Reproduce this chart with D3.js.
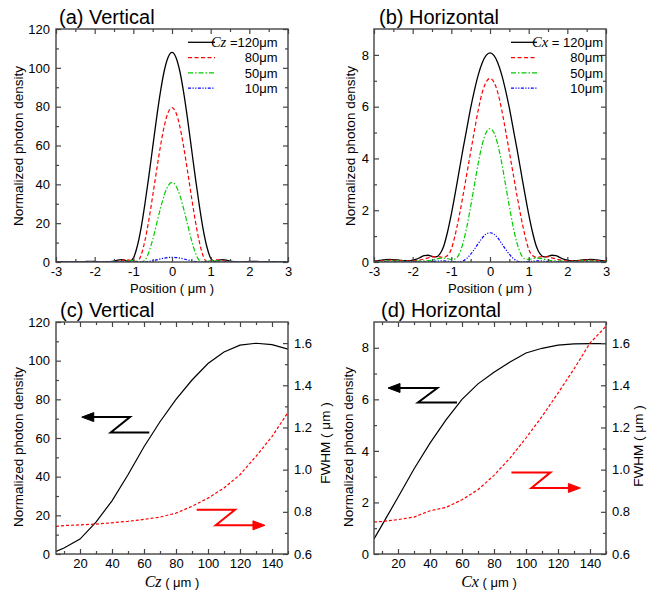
<!DOCTYPE html>
<html>
<head>
<meta charset="utf-8">
<script src="https://cdn.jsdelivr.net/npm/d3@7"></script>
<style>
body { margin: 0; background: #fff; }
svg text { font-family: "Liberation Sans", Arial, sans-serif; fill: #000; }
.axis path { display: none; }
.axis line { stroke: #444; stroke-width: 1.2; }
.axis text { font-size: 13px; }
</style>
</head>
<body>
<svg id="chart" width="647" height="593"></svg>
<script>

// ---- data ----
var positions = [-3,-2.9,-2.8,-2.7,-2.6,-2.5,-2.4,-2.3,-2.2,-2.1,
    -2,-1.9,-1.8,-1.7,-1.6,-1.5,-1.4,-1.3,-1.2,-1.1,
    -1,-0.9,-0.8,-0.7,-0.6,-0.5,-0.4,-0.3,-0.2,-0.1,
    0,
    0.1,0.2,0.3,0.4,0.5,0.6,0.7,0.8,0.9,1,
    1.1,1.2,1.3,1.4,1.5,1.6,1.7,1.8,1.9,2,
    2.1,2.2,2.3,2.4,2.5,2.6,2.7,2.8,2.9,3]

// (a) vertical profiles, Cz = 120, 80, 50, 10 um
var vert120 = [0.1,0.15,0.2,0.2,0.15,0.1,0.1,0.2,0.3,0.35,
    0.3,0.2,0.1,0.1,0.2,0.5,1.0,1.2,0.8,0.3,
    2,8,17.5,30,44,59,74,87.5,98.5,105.5,
    108,
    105.5,98.5,87.5,74,59,44,30,17.5,8,2,
    0.3,0.8,1.2,1.0,0.5,0.2,0.1,0.1,0.2,0.3,
    0.35,0.3,0.2,0.1,0.1,0.15,0.2,0.2,0.15,0.1]
var vert80 = [0.1,0.1,0.1,0.1,0.15,0.15,0.1,0.1,0.1,0.15,
    0.2,0.2,0.15,0.1,0.1,0.15,0.4,0.8,1.1,1.0,
    0.5,0.3,3.5,11,21.5,34,47,59.5,70,77,
    79.5,
    77,70,59.5,47,34,21.5,11,3.5,0.3,0.5,
    1.0,1.1,0.8,0.4,0.15,0.1,0.1,0.15,0.2,0.2,
    0.15,0.1,0.1,0.1,0.15,0.15,0.1,0.1,0.1,0.1]
var vert50 = [0.05,0.05,0.05,0.05,0.05,0.05,0.1,0.1,0.1,0.05,
    0.05,0.1,0.15,0.15,0.1,0.05,0.05,0.2,0.5,0.7,
    0.6,0.3,0.1,1,5,11.5,19.5,27.5,34.5,39.3,
    41,
    39.3,34.5,27.5,19.5,11.5,5,1,0.1,0.3,0.6,
    0.7,0.5,0.2,0.05,0.05,0.1,0.15,0.15,0.1,0.05,
    0.05,0.1,0.1,0.1,0.05,0.05,0.05,0.05,0.05,0.05]
var vert10 = [0.02,0.02,0.02,0.02,0.02,0.02,0.02,0.02,0.02,0.02,
    0.02,0.02,0.02,0.02,0.02,0.02,0.02,0.02,0.05,0.08,
    0.08,0.05,0.02,0.05,0.25,0.6,1.1,1.6,2.0,2.3,
    2.4,
    2.3,2.0,1.6,1.1,0.6,0.25,0.05,0.02,0.05,0.08,
    0.08,0.05,0.02,0.02,0.02,0.02,0.02,0.02,0.02,0.02,
    0.02,0.02,0.02,0.02,0.02,0.02,0.02,0.02,0.02,0.02]

// (b) horizontal profiles, Cx = 120, 80, 50, 10 um
var horz120 = [0.03,0.05,0.07,0.09,0.1,0.09,0.08,0.06,0.05,0.05,
    0.07,0.11,0.18,0.25,0.26,0.22,0.2,0.3,0.6,1.15,
    1.85,2.65,3.5,4.35,5.15,5.95,6.65,7.25,7.7,7.98,
    8.08,
    7.98,7.7,7.25,6.65,5.95,5.15,4.35,3.5,2.65,1.85,
    1.15,0.6,0.3,0.2,0.22,0.26,0.25,0.18,0.11,0.07,
    0.05,0.05,0.06,0.08,0.09,0.1,0.09,0.07,0.05,0.03]
var horz80 = [0.03,0.04,0.05,0.06,0.07,0.07,0.06,0.05,0.04,0.04,
    0.04,0.05,0.08,0.12,0.16,0.2,0.21,0.2,0.18,0.25,
    0.5,1.05,1.75,2.55,3.4,4.25,5.1,5.9,6.55,6.95,
    7.09,
    6.95,6.55,5.9,5.1,4.25,3.4,2.55,1.75,1.05,0.5,
    0.25,0.18,0.2,0.21,0.2,0.16,0.12,0.08,0.05,0.04,
    0.04,0.04,0.05,0.06,0.07,0.07,0.06,0.05,0.04,0.03]
var horz50 = [0.02,0.02,0.03,0.03,0.04,0.04,0.04,0.03,0.03,0.02,
    0.02,0.03,0.03,0.04,0.05,0.07,0.11,0.14,0.15,0.13,
    0.1,0.12,0.3,0.72,1.35,2.15,3.0,3.85,4.55,5.0,
    5.15,
    5.0,4.55,3.85,3.0,2.15,1.35,0.72,0.3,0.12,0.1,
    0.13,0.15,0.14,0.11,0.07,0.05,0.04,0.03,0.03,0.02,
    0.02,0.03,0.03,0.04,0.04,0.04,0.03,0.03,0.02,0.02]
var horz10 = [0.01,0.01,0.01,0.01,0.01,0.01,0.01,0.01,0.01,0.01,
    0.01,0.01,0.01,0.01,0.01,0.02,0.03,0.04,0.04,0.03,
    0.02,0.01,0.01,0.04,0.14,0.3,0.5,0.72,0.93,1.08,
    1.13,
    1.08,0.93,0.72,0.5,0.3,0.14,0.04,0.01,0.01,0.02,
    0.03,0.04,0.04,0.03,0.02,0.01,0.01,0.01,0.01,0.01,
    0.01,0.01,0.01,0.01,0.01,0.01,0.01,0.01,0.01,0.01]

var sizeLabels = ['120\u03bcm', '80\u03bcm', '50\u03bcm', '10\u03bcm']

// (c), (d) peak density and FWHM against C
var cValues = [5,10,20,30,40,50,60,70,80,90,100,110,120,130,140,150]
var vertPeak = [1.3,3.1,7.7,16.5,27.5,41,55.5,68.4,80,90,98.5,104.5,108,109,108.3,106]
var vertFwhm = [0.731,0.735,0.738,0.742,0.748,0.755,0.764,0.775,0.794,0.826,0.865,0.913,0.976,1.063,1.157,1.271]
var horzPeak = [0.58,1.12,2.2,3.3,4.3,5.2,6.0,6.6,7.05,7.45,7.8,7.98,8.1,8.15,8.16,8.16]
var horzFwhm = [0.752,0.754,0.763,0.775,0.805,0.821,0.857,0.905,0.973,1.055,1.15,1.252,1.363,1.477,1.6,1.68]

// Z shaped pointer arrows, in data units [C, value]; last point is the tip
var vertPeakArrow = [[63.3,62.9],[39.2,62.9],[51.25,70.8],[21.1,70.8]]
var vertFwhmArrow = [[92.9,0.81],[116.9,0.81],[104.8,0.736],[135.6,0.736]]
var horzPeakArrow = [[56.9,5.88],[32.5,5.88],[44.6,6.44],[13.75,6.44]]
var horzFwhmArrow = [[90.9,0.987],[115.3,0.987],[103.4,0.913],[134,0.913]]

// ---- styles ----
var seriesStyle = [
    { color: '#000000', dash: null, width: 1.3 },
    { color: '#ff0000', dash: '4,2.5', width: 1.2 },
    { color: '#00cc00', dash: '5,2,1.5,2', width: 1.2 },
    { color: '#0000ff', dash: '3,1.5,1.2,1.5,1.2,1.5', width: 1.2 }
]

var svg = d3.select('#chart')
svg.append('rect').attr('width', 647).attr('height', 593).attr('fill', '#fff')

function makePanel(box, xDomain, yDomain, y2Domain, id) {
    var p = { box: box }
    p.x = d3.scaleLinear().domain(xDomain).range([box.left, box.right])
    p.y = d3.scaleLinear().domain(yDomain).range([box.bottom, box.top])
    if (y2Domain) p.y2 = d3.scaleLinear().domain(y2Domain).range([box.bottom, box.top])
    svg.append('clipPath').attr('id', id)
        .append('rect')
        .attr('x', box.left).attr('y', box.top)
        .attr('width', box.right - box.left).attr('height', box.bottom - box.top)
    p.g = svg.append('g').attr('clip-path', 'url(#' + id + ')')
    return p
}

function drawAxes(p, t) {
    var b = p.box
    var g = svg.append('g').attr('class', 'axis')
    var plain = function(d) { return String(d) }

    function add(axis, tr) {
        g.append('g').attr('transform', tr).call(axis)
    }
    // bottom + mirrored top
    add(d3.axisBottom(p.x).tickValues(t.xMajor).tickSize(-5).tickSizeOuter(0).tickPadding(5).tickFormat(t.xFmt || plain), 'translate(0,' + b.bottom + ')')
    add(d3.axisBottom(p.x).tickValues(t.xMinor).tickSize(-3).tickSizeOuter(0).tickFormat(''), 'translate(0,' + b.bottom + ')')
    add(d3.axisTop(p.x).tickValues(t.xMajor).tickSize(-5).tickSizeOuter(0).tickFormat(''), 'translate(0,' + b.top + ')')
    add(d3.axisTop(p.x).tickValues(t.xMinor).tickSize(-3).tickSizeOuter(0).tickFormat(''), 'translate(0,' + b.top + ')')
    // left
    add(d3.axisLeft(p.y).tickValues(t.yMajor).tickSize(-5).tickSizeOuter(0).tickPadding(t.yPad).tickFormat(plain), 'translate(' + b.left + ',0)')
    add(d3.axisLeft(p.y).tickValues(t.yMinor).tickSize(-3).tickSizeOuter(0).tickFormat(''), 'translate(' + b.left + ',0)')
    // right: own scale if present, else mirror
    if (p.y2) {
        add(d3.axisRight(p.y2).tickValues(t.y2Major).tickSize(-5).tickSizeOuter(0).tickPadding(6).tickFormat(d3.format('.1f')), 'translate(' + b.right + ',0)')
        add(d3.axisRight(p.y2).tickValues(t.y2Minor).tickSize(-3).tickSizeOuter(0).tickFormat(''), 'translate(' + b.right + ',0)')
    } else {
        add(d3.axisRight(p.y).tickValues(t.yMajor).tickSize(-5).tickSizeOuter(0).tickFormat(''), 'translate(' + b.right + ',0)')
        add(d3.axisRight(p.y).tickValues(t.yMinor).tickSize(-3).tickSizeOuter(0).tickFormat(''), 'translate(' + b.right + ',0)')
    }
    svg.append('rect')
        .attr('x', b.left).attr('y', b.top)
        .attr('width', b.right - b.left).attr('height', b.bottom - b.top)
        .attr('fill', 'none').attr('stroke', '#444').attr('stroke-width', 1.4)
}

function drawSeries(p, xs, ys, style, yScale, curve) {
    var ysc = yScale || p.y
    var line = d3.line()
        .x(function(d, i) { return p.x(xs[i]) })
        .y(function(d) { return ysc(d) })
        .curve(curve || d3.curveLinear)
    p.g.append('path')
        .datum(ys)
        .attr('d', line)
        .attr('fill', 'none')
        .attr('stroke', style.color)
        .attr('stroke-width', style.width)
        .attr('stroke-dasharray', style.dash)
}

function drawArrow(p, pts, yScale, color) {
    var xy = pts.map(function(d) { return [p.x(d[0]), yScale(d[1])] })
    var n = xy.length
    var tip = xy[n - 1], prev = xy[n - 2]
    var dir = tip[0] < prev[0] ? -1 : 1
    var headLen = 12, headW = 4.5
    var body = xy.slice(0, n - 1).concat([[tip[0] - dir * headLen * 0.6, tip[1]]])
    svg.append('path')
        .attr('d', d3.line()(body))
        .attr('fill', 'none').attr('stroke', color).attr('stroke-width', 2)
    svg.append('path')
        .attr('d', d3.line()([
            [tip[0], tip[1]],
            [tip[0] - dir * headLen, tip[1] - headW],
            [tip[0] - dir * headLen, tip[1] + headW]
        ]) + 'Z')
        .attr('fill', color).attr('stroke', color).attr('stroke-width', 1)
}

function drawLegend(x1, x2, textX, prefix, sep) {
    sizeLabels.forEach(function(lab, i) {
        var yy = 42.3 + i * 15.3
        var st = seriesStyle[i]
        svg.append('line')
            .attr('x1', x1).attr('x2', x2).attr('y1', yy).attr('y2', yy)
            .attr('stroke', st.color).attr('stroke-width', st.width)
            .attr('stroke-dasharray', st.dash)
        var t = svg.append('text')
            .attr('x', textX).attr('y', yy + 4.6)
            .attr('text-anchor', 'end')
            .style('font-size', '13px')
        if (i === 0) {
            t.append('tspan').text(prefix)
                .style('font-family', '"Liberation Serif", "Times New Roman", serif')
                .style('font-style', 'italic').style('font-size', '14.5px')
            t.append('tspan').text(sep + lab)
        } else {
            t.text(lab)
        }
    })
}

function label(x, y, str, size, rotate) {
    var t = svg.append('text').style('font-size', size + 'px')
    if (rotate) {
        t.attr('transform', 'translate(' + x + ',' + y + ') rotate(-90)').attr('text-anchor', 'middle')
    } else {
        t.attr('x', x).attr('y', y)
    }
    t.text(str)
    return t
}

function cLabel(x, y, sym) {
    var t = svg.append('text').attr('x', x).attr('y', y).attr('text-anchor', 'middle')
    t.append('tspan').text(sym)
        .style('font-family', '"Liberation Serif", "Times New Roman", serif')
        .style('font-style', 'italic').style('font-size', '16px')
    t.append('tspan').text(' ( \u03bcm )').style('font-size', '13px')
}

var profileSeries = {
    vert: [vert120, vert80, vert50, vert10],
    horz: [horz120, horz80, horz50, horz10]
}

var xProfileMajor = [-3,-2,-1,0,1,2,3]
var xProfileMinor = [-2.5,-1.5,-0.5,0.5,1.5,2.5]
var xCMajor = [20,40,60,80,100,120,140]
var xCMinor = [10,30,50,70,90,110,130,150]
var fwhmMajor = [0.6,0.8,1.0,1.2,1.4,1.6]
var fwhmMinor = [0.7,0.9,1.1,1.3,1.5]

// ---- (a) ----
var pa = makePanel({ left: 56, right: 288, top: 29, bottom: 262 }, [-3, 3], [0, 120], null, 'clipA')
profileSeries.vert.forEach(function(s, i) { drawSeries(pa, positions, s, seriesStyle[i], null, d3.curveMonotoneX) })
drawAxes(pa, { xMajor: xProfileMajor, xMinor: xProfileMinor, yMajor: [0,20,40,60,80,100,120], yMinor: [10,30,50,70,90,110], yPad: 6 })
drawLegend(188, 215, 277.5, 'Cz', ' =')

// ---- (b) ----
var pb = makePanel({ left: 374, right: 606, top: 29, bottom: 262 }, [-3, 3], [0, 9], null, 'clipB')
profileSeries.horz.forEach(function(s, i) { drawSeries(pb, positions, s, seriesStyle[i], null, d3.curveMonotoneX) })
drawAxes(pb, { xMajor: xProfileMajor, xMinor: xProfileMinor, yMajor: [0,2,4,6,8], yMinor: [1,3,5,7], yPad: 5 })
drawLegend(511, 537, 603, 'Cx', ' = ')

// ---- (c) ----
var pc = makePanel({ left: 56, right: 288, top: 322, bottom: 554 }, [5, 150], [0, 120], [0.6, 1.7], 'clipC')
drawSeries(pc, cValues, vertPeak, { color: '#000', dash: null, width: 1.2 })
drawSeries(pc, cValues, vertFwhm, { color: '#ff0000', dash: '3,2', width: 1.2 }, pc.y2)
drawAxes(pc, { xMajor: xCMajor, xMinor: xCMinor, yMajor: [0,20,40,60,80,100,120], yMinor: [10,30,50,70,90,110], yPad: 6, y2Major: fwhmMajor, y2Minor: fwhmMinor })
drawArrow(pc, vertPeakArrow, pc.y, '#000')
drawArrow(pc, vertFwhmArrow, pc.y2, '#ff0000')

// ---- (d) ----
var pd = makePanel({ left: 374, right: 606, top: 322, bottom: 554 }, [5, 150], [0, 9], [0.6, 1.7], 'clipD')
drawSeries(pd, cValues, horzPeak, { color: '#000', dash: null, width: 1.2 })
drawSeries(pd, cValues, horzFwhm, { color: '#ff0000', dash: '3,2', width: 1.2 }, pd.y2)
drawAxes(pd, { xMajor: xCMajor, xMinor: xCMinor, yMajor: [0,2,4,6,8], yMinor: [1,3,5,7], yPad: 5, y2Major: fwhmMajor, y2Minor: fwhmMinor })
drawArrow(pd, horzPeakArrow, pd.y, '#000')
drawArrow(pd, horzFwhmArrow, pd.y2, '#ff0000')

// ---- titles ----
label(59, 24, '(a) Vertical', 20)
label(379, 24, '(b) Horizontal', 20)
label(60, 317, '(c) Vertical', 20)
label(381, 317, '(d) Horizontal', 20)

label(23, 146, 'Normalized photon density', 13.5, true)
label(355, 146, 'Normalized photon density', 13.5, true)
label(23, 447, 'Normalized photon density', 13.5, true)
label(353, 447, 'Normalized photon density', 13.5, true)
label(330, 443, 'FWHM ( \u03bcm )', 13.5, true)
label(643, 446, 'FWHM ( \u03bcm )', 13.5, true)

label(172, 292.5, 'Position ( \u03bcm )', 13).attr('text-anchor', 'middle')
label(490, 292.5, 'Position ( \u03bcm )', 13).attr('text-anchor', 'middle')
cLabel(172, 587, 'Cz')
cLabel(489, 587, 'Cx')

</script>
</body>
</html>
